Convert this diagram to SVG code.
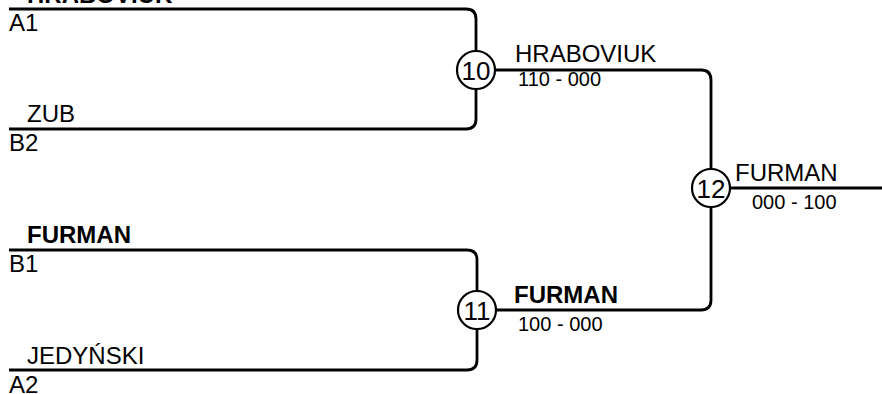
<svg xmlns="http://www.w3.org/2000/svg" width="882" height="394" viewBox="0 0 882 394">
<style>
.ln{fill:none;stroke:#000;stroke-width:2.8;}
.c{fill:#fff;stroke:#000;stroke-width:2.2;}
.t{font-family:"Liberation Sans",Arial,sans-serif;font-size:24px;fill:#000;}
.b{font-weight:bold;}
.s{font-family:"Liberation Sans",Arial,sans-serif;font-size:20px;fill:#000;}
.n{font-family:"Liberation Sans",Arial,sans-serif;font-size:26px;fill:#000;text-anchor:middle;}
</style>
<rect width="882" height="394" fill="#fff"/>
<g id="connectors">
<path class="ln" d="M9,9 H466 Q476,9 476,19 V119 Q476,129 466,129 H9"/>
<path class="ln" d="M9,250 H467 Q477,250 477,260 V360 Q477,370 467,370 H9"/>
<path class="ln" d="M495,70 H701 Q711,70 711,80 V300 Q711,310 701,310 H496"/>
<path class="ln" d="M730,188 H882"/>
</g>
<g id="entrants">
<text class="t b" x="27" y="3">HRABOVIUK</text>
<text class="t" x="9" y="31">A1</text>
<text class="t" x="27" y="122">ZUB</text>
<text class="t" x="9" y="151">B2</text>
<text class="t b" x="27" y="243">FURMAN</text>
<text class="t" x="9" y="272">B1</text>
<text class="t" x="27" y="364">JEDYŃSKI</text>
<text class="t" x="9" y="393">A2</text>
</g>
<g id="match10">
<circle class="c" cx="476" cy="70" r="19"/>
<text class="n" x="476" y="79.5">10</text>
<text class="t" x="515" y="62">HRABOVIUK</text>
<text class="s" x="518" y="86">110 - 000</text>
</g>
<g id="match11">
<circle class="c" cx="477" cy="310" r="19"/>
<text class="n" x="477" y="319.5">11</text>
<text class="t b" x="514" y="303">FURMAN</text>
<text class="s" x="518" y="331">100 - 000</text>
</g>
<g id="match12">
<circle class="c" cx="711" cy="188" r="19"/>
<text class="n" x="711" y="197.5">12</text>
<text class="t" x="735" y="181">FURMAN</text>
<text class="s" x="752" y="209">000 - 100</text>
</g>
</svg>
